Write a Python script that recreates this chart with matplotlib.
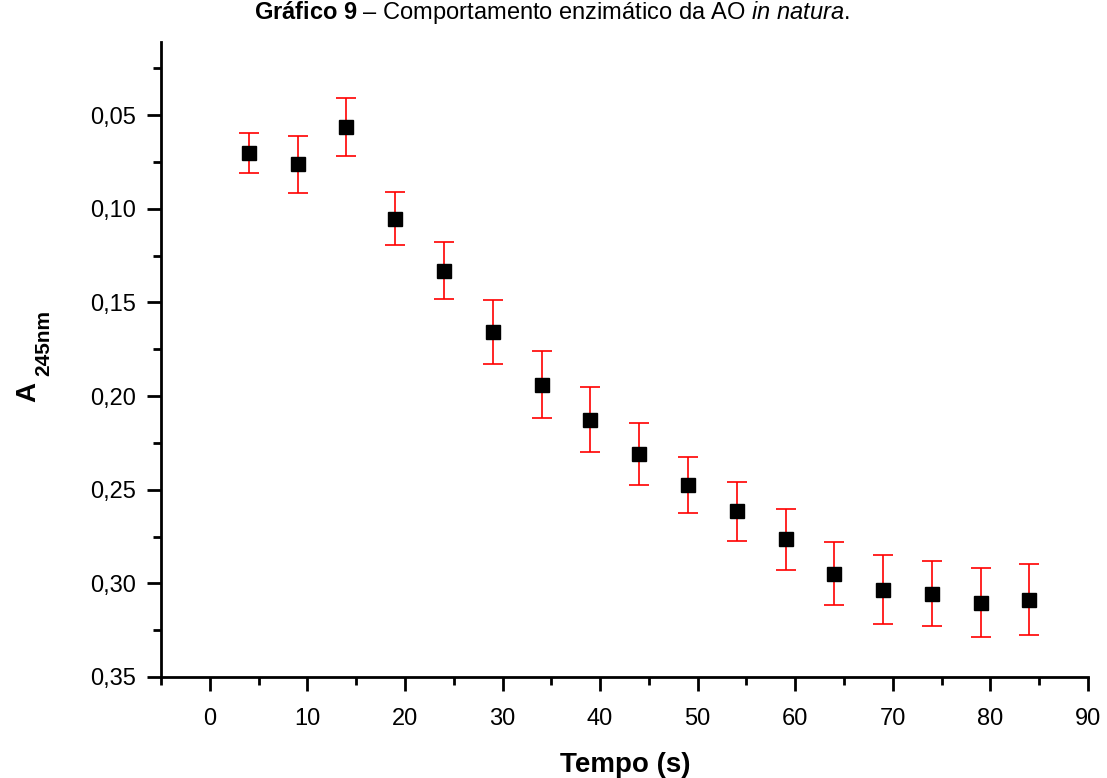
import matplotlib
matplotlib.use('Agg')
import matplotlib.pyplot as plt
from matplotlib.ticker import MultipleLocator, FuncFormatter

plt.rcParams['font.family'] = ['Liberation Sans', 'DejaVu Sans']
plt.rcParams['mathtext.fontset'] = 'custom'
plt.rcParams['mathtext.rm'] = 'Liberation Sans'
plt.rcParams['mathtext.bf'] = 'Liberation Sans:bold'
plt.rcParams['mathtext.it'] = 'Liberation Sans:italic'

# data
tempo = [4, 9, 14, 19, 24, 29, 34, 39, 44, 49, 54, 59, 64, 69, 74, 79, 84]
absorb = [0.0704, 0.0763, 0.0564, 0.1053, 0.1330, 0.1659, 0.1939, 0.2126,
          0.2309, 0.2475, 0.2615, 0.2765, 0.2948, 0.3033, 0.3055, 0.3103, 0.3088]
erro = [0.0107, 0.0153, 0.0156, 0.0140, 0.0150, 0.0169, 0.0177, 0.0172,
        0.0166, 0.0150, 0.0158, 0.0164, 0.0167, 0.0182, 0.0175, 0.0185, 0.0190]

W, H = 1107, 778
fig = plt.figure(figsize=(W / 100, H / 100), dpi=100)
ax = fig.add_axes([161 / W, 1 - 677 / H, (1088 - 161) / W, (677 - 42) / H])

ax.errorbar(tempo, absorb, yerr=erro, fmt='none', ecolor='red',
            elinewidth=1.2, capsize=7.5, capthick=1.2, zorder=2)
ax.plot(tempo, absorb, 's', color='black', markersize=9.5, zorder=3)

ax.set_xlim(-5, 90)
ax.set_ylim(0.35, 0.011)

for s in ['top', 'right']:
    ax.spines[s].set_visible(False)
for s in ['left', 'bottom']:
    ax.spines[s].set_linewidth(2)

ax.xaxis.set_major_locator(MultipleLocator(10))
ax.xaxis.set_minor_locator(MultipleLocator(5))
ax.yaxis.set_major_locator(MultipleLocator(0.05))
ax.yaxis.set_minor_locator(MultipleLocator(0.025))
ax.yaxis.set_major_formatter(FuncFormatter(lambda v, p: f'{v:.2f}'.replace('.', ',')))

ax.tick_params(which='major', direction='out', length=10, width=2, labelsize=17)
ax.tick_params(axis='x', which='major', pad=12)
ax.tick_params(axis='y', which='major', pad=8)
ax.tick_params(which='minor', direction='out', length=6, width=2)

# axis labels
fig.text(625 / W, 1 - 772 / H, 'Tempo (s)', ha='center', va='baseline',
         fontsize=20, fontweight='bold')
fig.text(28.5 / W, 1 - 392 / H, 'A', rotation=90, ha='center', va='center',
         fontsize=20, fontweight='bold')
fig.text(44 / W, 1 - 343 / H, '245nm', rotation=90, ha='center', va='center',
         fontsize=15, fontweight='bold')

fig.text(0.499, 1 - 19 / H,
         r'$\mathbf{Gráfico\ 9}$ – Comportamento enzimático da AO $\mathit{in\ natura}$.',
         ha='center', va='baseline', fontsize=17)

fig.savefig('out.png', dpi=100)
